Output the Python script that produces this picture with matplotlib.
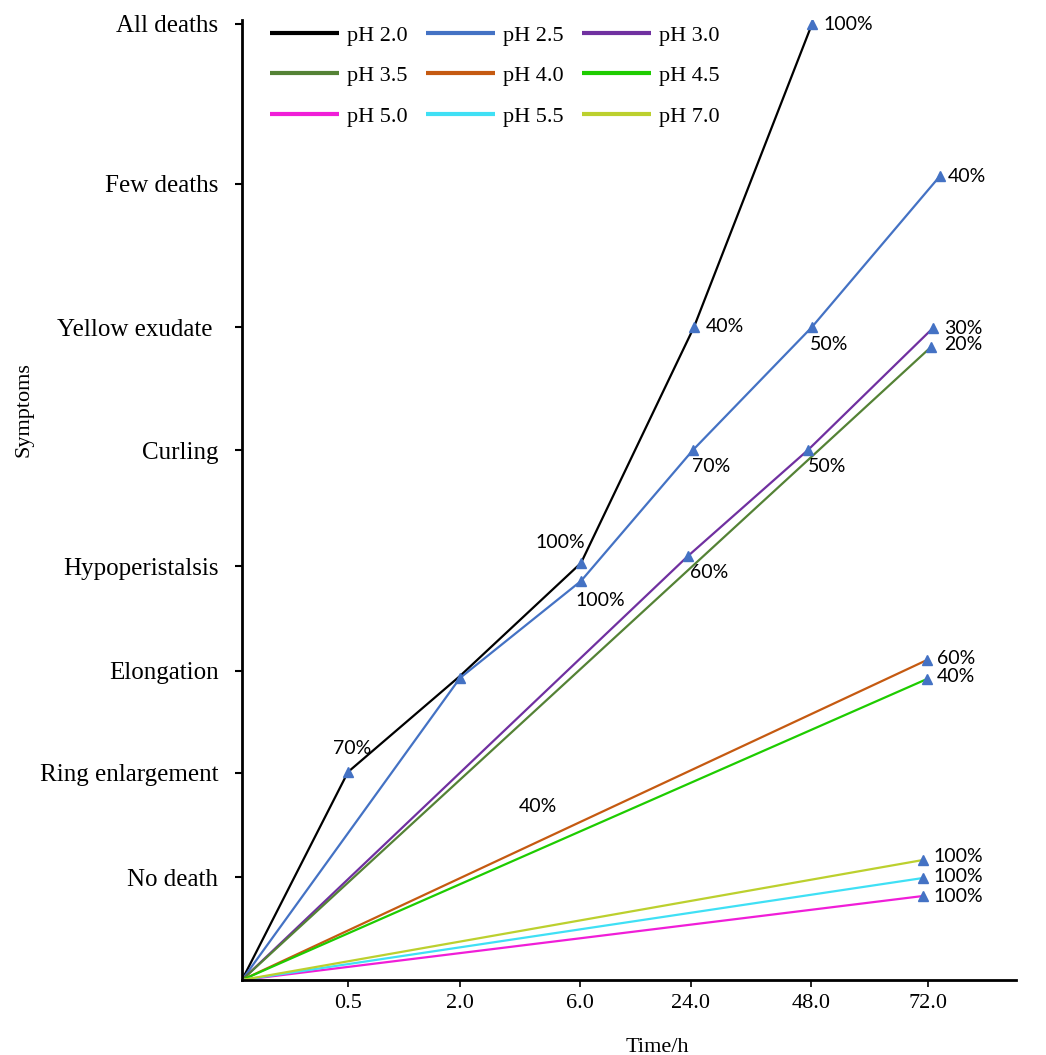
import matplotlib
matplotlib.use("Agg")
import matplotlib.pyplot as plt

# ---------------- data ----------------
time_labels = ["0.5", "2.0", "6.0", "24.0", "48.0", "72.0"]
time_pos = [1.06, 2.18, 3.38, 4.49, 5.69, 6.86]

symptom_labels = ["No death", "Ring enlargement", "Elongation", "Hypoperistalsis",
                  "Curling", "Yellow exudate ", "Few deaths", "All deaths"]
symptom_pos = [1.03, 2.07, 3.09, 4.14, 5.30, 6.53, 7.96, 9.56]

series_names = ["pH 2.0", "pH 2.5", "pH 3.0", "pH 3.5", "pH 4.0",
                "pH 4.5", "pH 5.0", "pH 5.5", "pH 7.0"]

ph20_x = [0, 1.06, 2.18, 3.39, 4.52, 5.70]
ph20_y = [0, 2.08, 3.04, 4.17, 6.53, 9.56]
ph20_lab = [None, "70%", None, "100%", "40%", "100%"]

ph25_x = [0, 2.18, 3.39, 4.51, 5.70, 6.98]
ph25_y = [0, 3.02, 3.99, 5.30, 6.53, 8.04]
ph25_lab = [None, "", "100%", "70%", "50%", "40%"]

ph30_x = [0, 4.46, 5.66, 6.91]
ph30_y = [0, 4.24, 5.30, 6.52]
ph30_lab = [None, "60%", "50%", "30%"]

ph35_x = [0, 6.89]
ph35_y = [0, 6.33]
ph35_lab = [None, "20%"]

ph40_x = [0, 6.85]
ph40_y = [0, 3.20]
ph40_lab = [None, "60%"]

ph45_x = [0, 6.85]
ph45_y = [0, 3.01]
ph45_lab = [None, "40%"]

ph50_x = [0, 6.81]
ph50_y = [0, 0.84]
ph50_lab = [None, "100%"]

ph55_x = [0, 6.81]
ph55_y = [0, 1.02]
ph55_lab = [None, "100%"]

ph70_x = [0, 6.81]
ph70_y = [0, 1.20]
ph70_lab = [None, "100%"]

extra_label = "40%"
extra_xy = (2.96, 1.74)

# ---------------- styles ----------------
colors = ["#000000", "#4472C4", "#7030A0", "#548235", "#C55A11",
          "#1ECC00", "#F01ED8", "#3FE0F5", "#BCD02E"]
marker_color = "#4472C4"

# label offsets in pixels (dx, dy), ha
offsets = {
    "pH 2.0": [None, (4, 23, "center"), None, (-21, 20, "center"), (12, 0, "left"), (11, 0, "left")],
    "pH 2.5": [None, None, (19, -19, "center"), (18, -17, "center"), (17, -17, "center"), (8, 0, "left")],
    "pH 3.0": [None, (21, -17, "center"), (19, -16, "center"), (11, 0, "left")],
    "pH 3.5": [None, (13, 2, "left")],
    "pH 4.0": [None, (10, 2, "left")],
    "pH 4.5": [None, (10, 2, "left")],
    "pH 5.0": [None, (10, -1, "left")],
    "pH 5.5": [None, (10, 1, "left")],
    "pH 7.0": [None, (10, 3, "left")],
}

all_x = [ph20_x, ph25_x, ph30_x, ph35_x, ph40_x, ph45_x, ph50_x, ph55_x, ph70_x]
all_y = [ph20_y, ph25_y, ph30_y, ph35_y, ph40_y, ph45_y, ph50_y, ph55_y, ph70_y]
all_lab = [ph20_lab, ph25_lab, ph30_lab, ph35_lab, ph40_lab, ph45_lab, ph50_lab, ph55_lab, ph70_lab]

serif = ["Liberation Serif", "DejaVu Serif"]
sans = ["Lato", "DejaVu Sans"]

fig = plt.figure(figsize=(10.46, 10.55), dpi=100)
W, H = 1046, 1055
ax = fig.add_axes([242 / W, 75 / H, 774 / W, 960 / H])

handles = {}
for name, xs, ys, c in zip(series_names, all_x, all_y, colors):
    ln, = ax.plot(xs, ys, color=c, lw=1.6, zorder=2, solid_capstyle="butt")
    handles[name] = ln

for name, xs, ys, labs in zip(series_names, all_x, all_y, all_lab):
    offs = offsets[name]
    for i, (x, y, lab) in enumerate(zip(xs, ys, labs)):
        if lab is None:
            continue
        ax.plot([x], [y], marker="^", ms=7.5, color=marker_color, ls="none", zorder=3)
        if lab and offs[i] is not None:
            dx, dy, ha = offs[i]
            ax.annotate(lab, (x, y), xytext=(dx, dy), textcoords="offset pixels",
                        ha=ha, va="center", fontsize=14, family=sans, color="black")

ax.text(extra_xy[0], extra_xy[1], extra_label, ha="center", va="center",
        fontsize=14, family=sans)

ax.set_xlim(0, 7.74)
ax.set_ylim(0, 9.6)
ax.set_xticks(time_pos)
ax.set_xticklabels(time_labels, family=serif, fontsize=16)
ax.set_yticks(symptom_pos)
ax.set_yticklabels(symptom_labels, family=serif, fontsize=18)
ax.tick_params(axis="y", direction="out", length=5, width=1.5, pad=12)
ax.tick_params(axis="x", direction="out", length=5, width=1.2, pad=5)

for s in ["top", "right"]:
    ax.spines[s].set_visible(False)
ax.spines["left"].set_linewidth(2.0)
ax.spines["bottom"].set_linewidth(2.0)

ax.set_xlabel("Time/h", family=serif, fontsize=16)
ax.xaxis.set_label_coords(0.537, -0.06)
ax.set_ylabel("Symptoms", family=serif, fontsize=16)
ax.yaxis.set_label_coords(-0.27, 0.594)

order = ["pH 2.0", "pH 3.5", "pH 5.0", "pH 2.5", "pH 4.0", "pH 5.5",
         "pH 3.0", "pH 4.5", "pH 7.0"]
leg = fig.legend([handles[n] for n in order], order, loc="upper left",
                 bbox_to_anchor=(270 / W, 1 - 25 / H), ncol=3, frameon=False,
                 borderpad=0, borderaxespad=0, handlelength=3.1, handletextpad=0.35,
                 columnspacing=0.85, labelspacing=0.9,
                 prop={"family": serif, "size": 16})
for l in leg.get_lines():
    l.set_linewidth(3)

fig.savefig("out.png", dpi=100)
